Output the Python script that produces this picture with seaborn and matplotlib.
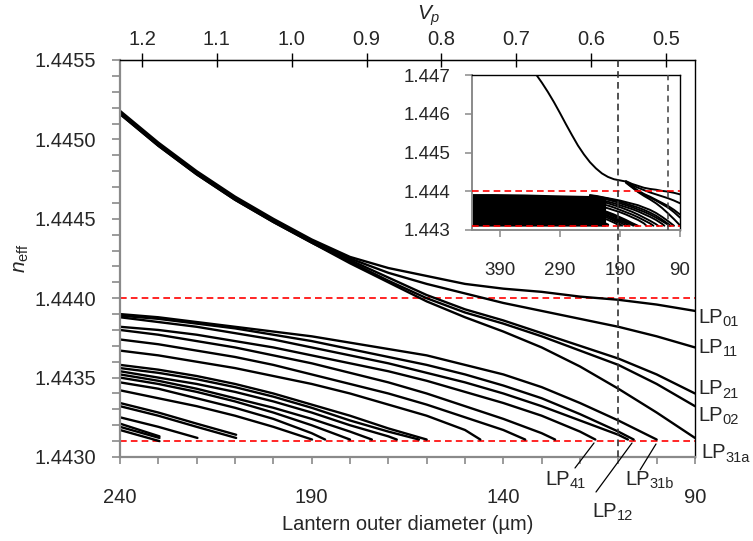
import matplotlib
matplotlib.use("Agg")
import matplotlib.pyplot as plt
import matplotlib.transforms as mtransforms
from matplotlib.lines import Line2D
from matplotlib.ticker import FixedLocator, FormatStrFormatter
import seaborn as sns
import pandas as pd

# outer diameter grid (um) on which the curves were read
d_grid = [240, 230, 220, 210, 200, 190, 180, 170, 160, 150, 140, 130, 120, 110, 100, 90]

# modes still guided at 90 um (shared trunk above ~185 um)
lp01 = [1.44518, 1.44498, 1.44480, 1.44464, 1.44450, 1.44437, 1.44426, 1.44419,
        1.44414, 1.44409, 1.44406, 1.44404, 1.44401, 1.44399, 1.44396, 1.44392]
lp11 = [1.44517, 1.44497, 1.44479, 1.44463, 1.44449, 1.44436, 1.44425, 1.44416,
        1.44409, 1.44403, 1.44397, 1.44392, 1.44387, 1.44382, 1.44376, 1.44369]
lp21 = [1.44517, 1.44497, 1.44479, 1.44463, 1.44449, 1.44436, 1.44424, 1.44413,
        1.44402, 1.44393, 1.44386, 1.44378, 1.44370, 1.44362, 1.44352, 1.44340]
lp02 = [1.44516, 1.44496, 1.44478, 1.44462, 1.44448, 1.44435, 1.44423, 1.44411,
        1.44400, 1.44391, 1.44384, 1.44376, 1.44367, 1.44358, 1.44346, 1.44332]
lp31a = [1.44516, 1.44496, 1.44478, 1.44462, 1.44448, 1.44435, 1.44422, 1.44410,
         1.44398, 1.44388, 1.44379, 1.44369, 1.44357, 1.44343, 1.44328, 1.44312]

# higher order modes, read on d_grid until they reach cutoff
m01 = [1.44390, 1.44388, 1.44385, 1.44382, 1.44379, 1.44376, 1.44372, 1.44368,
       1.44364, 1.44358, 1.44352, 1.44344, 1.44334, 1.44323]
m02 = [1.44389, 1.44387, 1.44384, 1.44381, 1.44377, 1.44373, 1.44368, 1.44363,
       1.44358, 1.44352, 1.44345, 1.44337, 1.44327, 1.44316]
m03 = [1.44388, 1.44385, 1.44382, 1.44378, 1.44374, 1.44369, 1.44364, 1.44359,
       1.44353, 1.44347, 1.44340, 1.44332, 1.44323, 1.44314]
m04 = [1.44382, 1.44380, 1.44377, 1.44373, 1.44369, 1.44364, 1.44359, 1.44354,
       1.44348, 1.44341, 1.44334, 1.44326, 1.44316]
m05 = [1.44380, 1.44377, 1.44373, 1.44369, 1.44364, 1.44359, 1.44353, 1.44347,
       1.44340, 1.44332, 1.44324, 1.44315]
m06 = [1.44374, 1.44371, 1.44367, 1.44363, 1.44358, 1.44352, 1.44346, 1.44340,
       1.44333, 1.44325, 1.44317]
m07 = [1.44367, 1.44364, 1.44360, 1.44356, 1.44351, 1.44346, 1.44340, 1.44333,
       1.44326, 1.44317]
m08 = [1.44358, 1.44355, 1.44351, 1.44346, 1.44340, 1.44333, 1.44326, 1.44318]
m09 = [1.44356, 1.44353, 1.44349, 1.44344, 1.44338, 1.44331, 1.44323, 1.44316]
m10 = [1.44354, 1.44350, 1.44346, 1.44341, 1.44335, 1.44328, 1.44320, 1.44313]
m11 = [1.44352, 1.44348, 1.44343, 1.44337, 1.44331, 1.44324, 1.44316]
m12 = [1.44350, 1.44346, 1.44341, 1.44335, 1.44328, 1.44320]
m13 = [1.44347, 1.44343, 1.44337, 1.44331, 1.44324, 1.44315]
m14 = [1.44342, 1.44337, 1.44332, 1.44326, 1.44319]
m15 = [1.44334, 1.44328, 1.44321]
m16 = [1.44332, 1.44326, 1.44319]
m17 = [1.44325, 1.44319]
m18 = [1.44321]
m19 = [1.44319]
m20 = [1.44317]
cut_d = [100, 106, 107.5, 116, 126.5, 134.3, 146, 160, 162, 167.8,
         174.3, 180, 186.5, 189.9, 209.7, 209.7, 219.8, 229.7, 229.7, 229.7]
cut_n = [1.44311, 1.44311, 1.44311, 1.44311, 1.44311, 1.44311, 1.44311, 1.44311,
         1.44311, 1.44311, 1.44311, 1.44311, 1.44311, 1.44311, 1.44314, 1.44312,
         1.44312, 1.44313, 1.44312, 1.44310]

# inset: the single curve above 180 um and the packed band of modes at large diameter
d_inset_trunk = [340, 330, 320, 310, 300, 290, 280, 270, 260, 250, 240, 230, 220, 210, 200, 190, 180]
n_inset_trunk = [1.44722, 1.44702, 1.44680, 1.44656, 1.44630, 1.44602, 1.44573, 1.44545,
                 1.44518, 1.44495, 1.44475, 1.44459, 1.44446, 1.44437, 1.44431, 1.44428, 1.44425]
d_band = [437, 400, 350, 300, 270, 240, 225, 214]
band_top = [1.44394, 1.44394, 1.44393, 1.44391, 1.44390, 1.44389, 1.44386, 1.44382]

# axis ticks
x_major = [240, 190, 140, 90]
x_minor = list(range(90, 241, 10))
y_major = [1.4430, 1.4435, 1.4440, 1.4445, 1.4450, 1.4455]
y_minor = [1.4430 + 0.0001 * i for i in range(26)]
vp_ticks = [1.2, 1.1, 1.0, 0.9, 0.8, 0.7, 0.6, 0.5]
inset_x_ticks = [390, 290, 190, 90]
inset_y_ticks = [1.443, 1.444, 1.445, 1.446, 1.447]

n_clad = 1.4431
n_limit = 1.4440
d_marker = 110
vp_per_um = 1.2 / 234.26

guided = [lp01, lp11, lp21, lp02, lp31a]
higher = [m01, m02, m03, m04, m05, m06, m07, m08, m09, m10,
          m11, m12, m13, m14, m15, m16, m17, m18, m19, m20]

rows = []
for i, vals in enumerate(guided):
    for d, n in zip(d_grid, vals):
        rows.append(("g%d" % i, d, n))
for i, vals in enumerate(higher):
    for d, n in zip(d_grid, vals):
        rows.append(("h%d" % i, d, n))
    rows.append(("h%d" % i, cut_d[i], cut_n[i]))
df = pd.DataFrame(rows, columns=["mode", "d", "n"])

# inset table: its own trunk + branches below 180 um + higher modes
irows = [("trunk", d, n) for d, n in zip(d_inset_trunk, n_inset_trunk)]
for i, vals in enumerate(guided):
    for d, n in zip(d_grid, vals):
        if d <= 180:
            irows.append(("g%d" % i, d, n))
irows += [r for r in rows if r[0].startswith("h")]
dfi = pd.DataFrame(irows, columns=["mode", "d", "n"])

sns.set_style("ticks")
plt.rcParams["font.family"] = ["Liberation Sans", "DejaVu Sans"]
plt.rcParams["mathtext.fontset"] = "custom"
plt.rcParams["mathtext.rm"] = "Liberation Sans"
plt.rcParams["mathtext.it"] = "Liberation Sans:italic"

W, H = 753, 541


def px(x, y):
    return x / W, 1 - y / H


fig = plt.figure(figsize=(W / 100, H / 100), dpi=100)
ax = fig.add_axes([120 / W, 1 - 457 / H, 575 / W, 397 / H])

sns.lineplot(data=df, x="d", y="n", units="mode", estimator=None,
             color="black", linewidth=1.7, ax=ax)
red_dash = (0, (4, 2.5))
ax.axhline(n_limit, color="red", lw=1.2, ls=red_dash, zorder=1)
ax.axhline(n_clad, color="red", lw=1.2, ls=red_dash, zorder=1)

ax.set_xlim(240, 90)
ax.set_ylim(1.4430, 1.4455)
ax.set_xlabel("")
ax.set_ylabel("")
ax.xaxis.set_major_locator(FixedLocator(x_major))
ax.xaxis.set_minor_locator(FixedLocator(x_minor))
ax.yaxis.set_major_locator(FixedLocator(y_major))
ax.yaxis.set_minor_locator(FixedLocator(y_minor))
ax.yaxis.set_major_formatter(FormatStrFormatter("%.4f"))
ax.tick_params(axis="x", which="both", direction="out", length=5, width=1.2,
               color="#8a8a8a", labelsize=14.5, pad=17, top=False)
ax.tick_params(axis="y", which="both", direction="out", length=6, width=1.2,
               color="#8a8a8a", labelsize=14.5, pad=11, right=False)
for s in ["left", "bottom"]:
    ax.spines[s].set_color("#8a8a8a")
    ax.spines[s].set_linewidth(1.6)
for s in ["top", "right"]:
    ax.spines[s].set_color("black")
    ax.spines[s].set_linewidth(1.0)

sec = ax.secondary_xaxis("top", functions=(lambda d: d * vp_per_um, lambda v: v / vp_per_um))
sec.set_xticks(vp_ticks)
sec.xaxis.set_major_formatter(FormatStrFormatter("%.1f"))
sec.tick_params(direction="inout", length=10, width=1, color="black", labelsize=14.5, pad=3)
sec.spines["top"].set_color("black")

# inset
axi = fig.add_axes([471.7 / W, 1 - 230 / H, 208.3 / W, 155 / H])
axi.fill_between(d_band, n_clad, band_top, color="black", lw=0)
sns.lineplot(data=dfi, x="d", y="n", units="mode", estimator=None,
             color="black", linewidth=1.4, ax=axi)
axi.axhline(n_limit, color="red", lw=1.2, ls=red_dash, zorder=3)
axi.axhline(n_clad, color="red", lw=1.2, ls=red_dash, zorder=3)
axi.axvline(d_marker, color="#404040", lw=1.1, ls=(0, (4, 3)), zorder=3)
axi.set_xlim(437, 90)
axi.set_ylim(1.443, 1.447)
axi.set_xlabel("")
axi.set_ylabel("")
axi.set_xticks(inset_x_ticks)
axi.set_yticks(inset_y_ticks)
axi.yaxis.set_major_formatter(FormatStrFormatter("%.3f"))
axi.tick_params(axis="x", direction="out", length=5, width=1.1, color="#8a8a8a",
                labelsize=13.5, pad=18, top=False)
axi.tick_params(axis="y", direction="out", length=5, width=1.1, color="#8a8a8a",
                labelsize=13.5, pad=10.5, right=False)
for s in ["left", "bottom"]:
    axi.spines[s].set_color("#8a8a8a")
    axi.spines[s].set_linewidth(1.4)
for s in ["top", "right"]:
    axi.spines[s].set_color("black")
    axi.spines[s].set_linewidth(1.0)

# dashed marker of the main plot, drawn across the inset too
trans = mtransforms.blended_transform_factory(ax.transData, ax.transAxes)
fig.add_artist(Line2D([d_marker, d_marker], [0, 1], transform=trans, color="#333333",
                      lw=1.2, ls=(0, (4, 2.5)), zorder=5))

# axis titles
fig.text(*px(408, 524), "Lantern outer diameter (µm)", ha="center", va="center", fontsize=14.5)
fig.text(*px(22, 258), r"$n_{\mathrm{eff}}$", rotation=90, ha="center", va="center", fontsize=15)
fig.text(*px(429, 16), r"$V_p$", ha="center", va="center", fontsize=15)


# mode labels: "LP" plus a lowered subscript
def lp_label(x, y, sub):
    fig.text(*px(x, y), "LP", fontsize=14.5, va="baseline")
    fig.text(*px(x + 24.5, y + 3.5), sub, fontsize=10.5, va="baseline")


lp_label(698, 323, "01")
lp_label(698, 353, "11")
lp_label(698, 394, "21")
lp_label(698, 421, "02")
lp_label(701, 458, "31a")
lp_label(545, 485, "41")
lp_label(592, 517, "12")
lp_label(625, 485, "31b")
for (x0, y0), (x1, y1) in [((575, 468), (594, 443)),
                           ((596, 492), (632, 443)),
                           ((640, 470), (656, 444))]:
    a, b = px(x0, y0)
    c, d = px(x1, y1)
    fig.add_artist(Line2D([a, c], [b, d], color="black", lw=0.9))

fig.savefig("out.png", dpi=100)
